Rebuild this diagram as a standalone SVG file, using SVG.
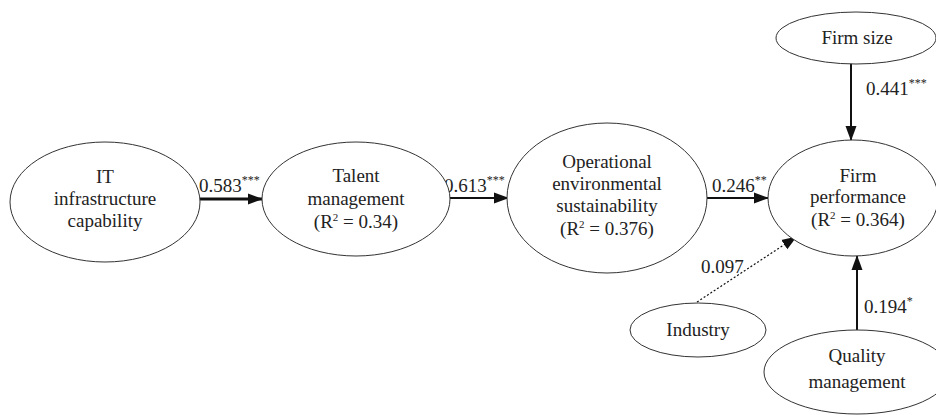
<svg xmlns="http://www.w3.org/2000/svg" width="936" height="415" viewBox="0 0 936 415" font-family="'Liberation Serif', 'DejaVu Serif', 'Times New Roman', serif">
<style>
.n{fill:#fff;stroke:#333;stroke-width:1}
text{font-family:'Liberation Serif','DejaVu Serif','Times New Roman',serif;font-size:19px;fill:#222}
.c{text-anchor:middle}
.sup{font-size:12px}
.r2{font-size:11px}
.e{stroke:#111;fill:none}
</style>
<defs>
<marker id="ah" markerUnits="userSpaceOnUse" markerWidth="15" markerHeight="12" refX="14" refY="6" orient="auto">
<path d="M0,0.5 L15,6 L0,11.5 Z" fill="#111"/>
</marker>
</defs>
<rect width="936" height="415" fill="#fff"/>
<g id="connectors">
<line class="e" x1="200" y1="199" x2="262" y2="199" stroke-width="3" marker-end="url(#ah)"/>
<line class="e" x1="448" y1="198" x2="508" y2="198" stroke-width="2" marker-end="url(#ah)"/>
<line class="e" x1="707" y1="198" x2="768" y2="198" stroke-width="2" marker-end="url(#ah)"/>
<line class="e" x1="851" y1="63" x2="851" y2="140" stroke-width="2" marker-end="url(#ah)"/>
<line class="e" x1="857" y1="330" x2="857" y2="256" stroke-width="2" marker-end="url(#ah)"/>
<line class="e" x1="697" y1="302" x2="796" y2="237" stroke-width="1.2" stroke-dasharray="2,2" marker-end="url(#ah)"/>
<text x="199" y="192">0.583<tspan class="sup" dy="-8">***</tspan></text>
<text x="444" y="192">0.613<tspan class="sup" dy="-8">***</tspan></text>
<text x="712" y="192">0.246<tspan class="sup" dy="-8">**</tspan></text>
<text x="866" y="95">0.441<tspan class="sup" dy="-8">***</tspan></text>
<text x="864" y="313">0.194<tspan class="sup" dy="-8">*</tspan></text>
<text x="701" y="273">0.097</text>
</g>
<g id="it">
<ellipse class="n" cx="105" cy="202" rx="95" ry="60"/>
<text class="c" x="105" y="183">IT</text>
<text class="c" x="105" y="205">infrastructure</text>
<text class="c" x="105" y="227">capability</text>
</g>
<g id="talent">
<ellipse class="n" cx="356" cy="199" rx="94" ry="57"/>
<text class="c" x="356" y="182">Talent</text>
<text class="c" x="356" y="205">management</text>
<text class="c" x="356" y="228">(R<tspan class="r2" dy="-7">2</tspan><tspan dy="7"> = 0.34)</tspan></text>
</g>
<g id="operational">
<ellipse class="n" cx="607" cy="198" rx="100" ry="75"/>
<text class="c" x="607" y="168">Operational</text>
<text class="c" x="607" y="190">environmental</text>
<text class="c" x="607" y="212">sustainability</text>
<text class="c" x="607" y="235">(R<tspan class="r2" dy="-7">2</tspan><tspan dy="7"> = 0.376)</tspan></text>
</g>
<g id="performance">
<ellipse class="n" cx="853" cy="198" rx="85" ry="58"/>
<text class="c" x="858" y="182">Firm</text>
<text class="c" x="858" y="203">performance</text>
<text class="c" x="858" y="226">(R<tspan class="r2" dy="-7">2</tspan><tspan dy="7"> = 0.364)</tspan></text>
</g>
<g id="firmsize">
<ellipse class="n" cx="856" cy="38" rx="80" ry="26"/>
<text class="c" x="857" y="44">Firm size</text>
</g>
<g id="industry">
<ellipse class="n" cx="698" cy="330" rx="68" ry="27"/>
<text class="c" x="698" y="336">Industry</text>
</g>
<g id="quality">
<ellipse class="n" cx="857" cy="372" rx="93" ry="42"/>
<text class="c" x="857" y="362">Quality</text>
<text class="c" x="857" y="388">management</text>
</g>
</svg>
